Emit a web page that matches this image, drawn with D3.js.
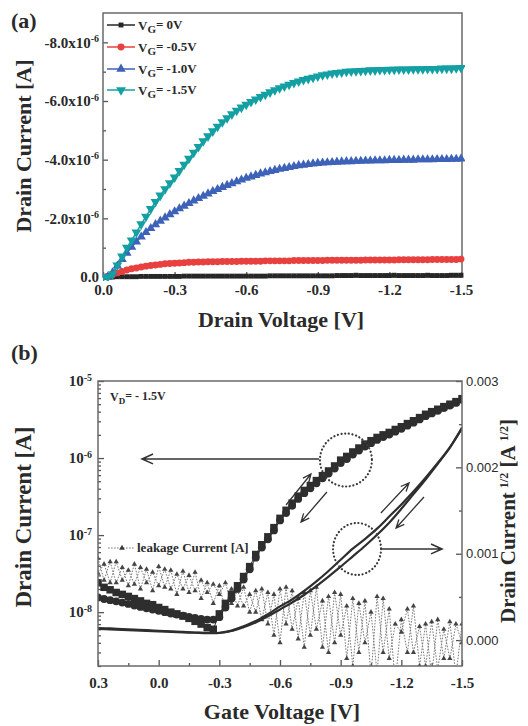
<!DOCTYPE html>
<html><head><meta charset="utf-8">
<script src="https://cdn.jsdelivr.net/npm/d3@7/dist/d3.min.js"></script>
<style>body{margin:0;background:#fff}svg{display:block}</style>
</head><body>
<svg id="c" width="528" height="726"></svg>
<script>
// ---------------- Panel (a): output characteristics ----------------
const vdSweep = [0,-0.02,-0.04,-0.06,-0.08,-0.1,-0.12,-0.14,-0.16,-0.18,-0.2,-0.22,-0.24,-0.26,-0.28,-0.3,-0.32,-0.34,-0.36,-0.38,-0.4,-0.42,-0.44,-0.46,-0.48,-0.5,-0.52,-0.54,-0.56,-0.58,-0.6,-0.62,-0.64,-0.66,-0.68,-0.7,-0.72,-0.74,-0.76,-0.78,-0.8,-0.82,-0.84,-0.86,-0.88,-0.9,-0.92,-0.94,-0.96,-0.98,-1,-1.02,-1.04,-1.06,-1.08,-1.1,-1.12,-1.14,-1.16,-1.18,-1.2,-1.22,-1.24,-1.26,-1.28,-1.3,-1.32,-1.34,-1.36,-1.38,-1.4,-1.42,-1.44,-1.46,-1.48,-1.5];
// drain current magnitudes in microamps (current is negative)
const idVg0 = [0.00,0.00,0.00,0.01,0.01,0.01,0.01,0.01,0.02,0.02,0.02,0.02,0.02,0.02,0.02,0.02,0.02,0.03,0.03,0.03,0.03,0.03,0.03,0.03,0.03,0.03,0.03,0.03,0.03,0.03,0.03,0.03,0.03,0.03,0.03,0.04,0.04,0.04,0.04,0.04,0.04,0.04,0.04,0.04,0.04,0.04,0.04,0.04,0.04,0.05,0.05,0.05,0.05,0.06,0.05,0.05,0.05,0.05,0.05,0.05,0.05,0.06,0.05,0.05,0.05,0.05,0.05,0.05,0.06,0.05,0.05,0.05,0.05,0.06,0.06,0.06];
const idVg05 = [0.00,0.03,0.08,0.14,0.19,0.24,0.28,0.31,0.34,0.37,0.39,0.41,0.43,0.45,0.46,0.47,0.48,0.49,0.50,0.50,0.51,0.51,0.52,0.52,0.52,0.53,0.53,0.53,0.53,0.54,0.54,0.54,0.54,0.54,0.55,0.55,0.55,0.55,0.55,0.55,0.56,0.56,0.56,0.56,0.56,0.56,0.56,0.57,0.57,0.57,0.57,0.57,0.57,0.57,0.57,0.58,0.58,0.58,0.58,0.58,0.58,0.58,0.59,0.59,0.59,0.59,0.59,0.59,0.59,0.60,0.60,0.60,0.60,0.60,0.60,0.61];
const idVg10 = [0.00,0.00,0.15,0.38,0.60,0.82,1.02,1.20,1.37,1.52,1.66,1.79,1.91,2.02,2.13,2.23,2.33,2.42,2.51,2.60,2.68,2.76,2.84,2.92,2.99,3.06,3.13,3.19,3.25,3.31,3.37,3.42,3.47,3.52,3.56,3.60,3.64,3.68,3.71,3.74,3.77,3.80,3.82,3.84,3.86,3.88,3.89,3.90,3.91,3.92,3.93,3.94,3.94,3.95,3.95,3.96,3.96,3.97,3.97,3.97,3.98,3.98,3.98,3.99,3.99,3.99,4.00,4.00,4.00,4.00,4.01,4.01,4.01,4.02,4.02,4.03];
const idVg15 = [0.00,0.00,0.10,0.40,0.70,1.00,1.25,1.52,1.80,2.06,2.32,2.56,2.78,3.00,3.20,3.40,3.62,3.83,4.04,4.24,4.44,4.63,4.80,4.97,5.13,5.28,5.42,5.55,5.67,5.78,5.88,5.97,6.06,6.14,6.22,6.30,6.37,6.44,6.50,6.56,6.62,6.67,6.72,6.76,6.80,6.84,6.88,6.91,6.94,6.96,6.98,7.00,7.01,7.02,7.03,7.04,7.05,7.05,7.06,7.06,7.07,7.07,7.08,7.08,7.08,7.09,7.09,7.09,7.10,7.10,7.10,7.11,7.11,7.11,7.12,7.13];
const seriesLabelsA = ["= 0V","= -0.5V","= -1.0V","= -1.5V"];
const yTicksA = [0,-2e-6,-4e-6,-6e-6,-8e-6];
const yMinorA = [-1e-6,-3e-6,-5e-6,-7e-6];
const xTicksA = [0,-0.3,-0.6,-0.9,-1.2,-1.5];
const xMinorA = [-0.15,-0.45,-0.75,-1.05,-1.35];

// ---------------- Panel (b): transfer characteristics ----------------
const vgSweep = [0.3,0.27,0.24,0.21,0.18,0.15,0.12,0.09,0.06,0.03,0,-0.03,-0.06,-0.09,-0.12,-0.15,-0.18,-0.21,-0.24,-0.27,-0.3,-0.33,-0.36,-0.39,-0.42,-0.45,-0.48,-0.51,-0.54,-0.57,-0.6,-0.63,-0.66,-0.69,-0.72,-0.75,-0.78,-0.81,-0.84,-0.87,-0.9,-0.93,-0.96,-0.99,-1.02,-1.05,-1.08,-1.11,-1.14,-1.17,-1.2,-1.23,-1.26,-1.29,-1.32,-1.35,-1.38,-1.41,-1.44,-1.47,-1.5];
const idFwd = [2.4e-8,2.1e-8,1.95e-8,1.8e-8,1.7e-8,1.6e-8,1.5e-8,1.4e-8,1.3e-8,1.25e-8,1.15e-8,1.08e-8,1.0e-8,9.5e-9,8.9e-9,8.3e-9,7.6e-9,7.0e-9,6.3e-9,6.0e-9,9.5e-9,1.3e-8,1.7e-8,2.2e-8,2.9e-8,3.9e-8,5.6e-8,7.5e-8,9.5e-8,1.25e-7,1.65e-7,2.1e-7,2.6e-7,3.2e-7,3.8e-7,4.4e-7,5.1e-7,5.9e-7,6.8e-7,7.9e-7,9.4e-7,1.05e-6,1.2e-6,1.35e-6,1.52e-6,1.68e-6,1.85e-6,2.0e-6,2.15e-6,2.35e-6,2.55e-6,2.8e-6,3.05e-6,3.35e-6,3.7e-6,4.0e-6,4.3e-6,4.65e-6,5.0e-6,5.4e-6,5.9e-6];
const idRev = [1.55e-8,1.48e-8,1.43e-8,1.38e-8,1.33e-8,1.28e-8,1.22e-8,1.17e-8,1.12e-8,1.08e-8,1.04e-8,1.0e-8,9.6e-9,9.3e-9,9.0e-9,8.7e-9,8.4e-9,8.2e-9,8.0e-9,8.0e-9,8.6e-9,1.15e-8,1.5e-8,2.0e-8,2.65e-8,3.6e-8,5.1e-8,6.9e-8,8.8e-8,1.15e-7,1.55e-7,1.93e-7,2.4e-7,2.95e-7,3.5e-7,4.05e-7,4.7e-7,5.45e-7,6.3e-7,7.3e-7,8.6e-7,9.7e-7,1.11e-6,1.25e-6,1.41e-6,1.56e-6,1.72e-6,1.87e-6,2.02e-6,2.2e-6,2.4e-6,2.63e-6,2.88e-6,3.17e-6,3.5e-6,3.8e-6,4.1e-6,4.45e-6,4.8e-6,5.2e-6,5.7e-6];
const leakA = [5.0e-8,2.6e-8,4.5e-8,2.4e-8,3.8e-8,2.2e-8,4.2e-8,2.0e-8,3.6e-8,1.9e-8,3.9e-8,2.1e-8,3.5e-8,1.7e-8,3.4e-8,1.8e-8,3.3e-8,1.5e-8,2.4e-8,1.3e-8,2.2e-8,1.1e-8,2.0e-8,1.2e-8,2.1e-8,1.0e-8,1.9e-8,8.0e-9,1.8e-8,5.0e-9,2.0e-8,7.0e-9,1.9e-8,4.5e-9,1.8e-8,5.0e-9,2.1e-8,3.5e-9,1.6e-8,4.0e-9,1.7e-8,2.5e-9,1.5e-8,3.0e-9,1.4e-8,1.5e-9,1.6e-8,3.0e-9,1.1e-8,1.2e-9,8.0e-9,3.0e-9,1.2e-8,2.0e-9,7.0e-9,1.5e-9,8.0e-9,2.5e-9,7.5e-9,1.5e-9,7.0e-9];
const leakB = [3.2e-8,4.2e-8,2.4e-8,4.5e-8,2.6e-8,3.5e-8,2.3e-8,3.8e-8,2.4e-8,3.3e-8,2.2e-8,3.6e-8,2.0e-8,3.1e-8,2.0e-8,3.0e-8,1.9e-8,2.6e-8,1.8e-8,2.3e-8,1.7e-8,2.4e-8,1.3e-8,1.9e-8,1.2e-8,1.7e-8,1.0e-8,2.0e-8,7.0e-9,1.7e-8,4.0e-9,2.1e-8,6.0e-9,1.5e-8,3.5e-9,1.9e-8,6.0e-9,1.4e-8,3.0e-9,1.8e-8,5.0e-9,1.2e-8,2.0e-9,1.3e-8,4.0e-9,1.0e-8,1.6e-9,1.5e-8,2.5e-9,7.0e-9,5.5e-9,1.1e-8,3.0e-9,6.5e-9,2.0e-9,7.5e-9,1.8e-9,6.0e-9,2.5e-9,7.0e-9,4.0e-9];
const vgLine = [0.3,0.24,0.18,0.12,0.06,0,-0.06,-0.12,-0.18,-0.24,-0.3,-0.36,-0.42,-0.48,-0.54,-0.6,-0.66,-0.72,-0.78,-0.84,-0.9,-0.96,-1.02,-1.08,-1.14,-1.2,-1.26,-1.32,-1.38,-1.44,-1.5];
const sqrtFwd = [1.40e-4,1.35e-4,1.28e-4,1.22e-4,1.15e-4,1.08e-4,1.00e-4,9.4e-5,8.8e-5,8.3e-5,8.5e-5,1.1e-4,1.6e-4,2.2e-4,3.0e-4,3.9e-4,4.7e-4,5.7e-4,6.8e-4,8.0e-4,9.3e-4,1.06e-3,1.17e-3,1.29e-3,1.43e-3,1.57e-3,1.72e-3,1.88e-3,2.05e-3,2.23e-3,2.46e-3];
const sqrtRev = [1.30e-4,1.25e-4,1.19e-4,1.13e-4,1.07e-4,1.01e-4,9.5e-5,9.0e-5,8.5e-5,8.0e-5,8.2e-5,1.05e-4,1.5e-4,2.05e-4,2.75e-4,3.55e-4,4.35e-4,5.25e-4,6.25e-4,7.35e-4,8.5e-4,9.7e-4,1.09e-3,1.22e-3,1.36e-3,1.52e-3,1.69e-3,1.86e-3,2.04e-3,2.23e-3,2.45e-3];
const xTicksB = [0.3,0,-0.3,-0.6,-0.9,-1.2,-1.5];
const xMinorB = [0.15,-0.15,-0.45,-0.75,-1.05,-1.35];
const yTicksB = [1e-8,1e-7,1e-6,1e-5];
const yTicksR = [0,0.001,0.002,0.003];
const yMinorR = [0.0005,0.0015,0.0025];

// ---------------- drawing ----------------
const svg = d3.select("#c");
const serif = "'Liberation Serif','Times New Roman',serif";
const sans = "'Liberation Sans',Arial,sans-serif";
const ink = "#2a2a2a";
const frameCol = "#6a6a6a";

function styleAxis(g, font, size, weight){
  g.select(".domain").remove();
  g.selectAll(".tick line").attr("stroke", "#555").attr("stroke-width", 1.3);
  g.selectAll("text").attr("font-family", font).attr("font-size", size)
   .attr("font-weight", weight).attr("fill", ink);
}

// ===== Panel (a)
const xA = d3.scaleLinear().domain([0,-1.5]).range([103,461]);
const yA = d3.scaleLinear().domain([0,-9e-6]).range([277,13]);

svg.append("text").attr("x",11).attr("y",28).attr("font-family",serif).attr("font-weight","bold")
  .attr("font-size",22).attr("fill",ink).text("(a)");

const axA = svg.append("g");
axA.append("g").attr("transform","translate(0,277)")
  .call(d3.axisBottom(xA).tickValues(xTicksA).tickSizeInner(-5).tickSizeOuter(0).tickPadding(7).tickFormat(d=>d.toFixed(1)))
  .call(g=>styleAxis(g,serif,15,"bold"));
axA.append("g").attr("transform","translate(0,277)")
  .call(d3.axisBottom(xA).tickValues(xMinorA).tickSizeInner(-3).tickSizeOuter(0).tickFormat(""))
  .call(g=>styleAxis(g,serif,15,"bold"));
axA.append("g").attr("transform","translate(103,0)")
  .call(d3.axisLeft(yA).tickValues(yTicksA).tickSizeInner(-5).tickSizeOuter(0).tickPadding(4))
  .call(g=>styleAxis(g,serif,15,"bold"))
  .call(g=>g.selectAll(".tick text").each(function(d){
    const t=d3.select(this); t.text(null);
    if(d===0){ t.text("0.0"); return; }
    t.append("tspan").text((d*1e6).toFixed(1)+"x10");
    t.append("tspan").attr("dy","-0.55em").attr("font-size",10).text("-6");
  }));
axA.append("g").attr("transform","translate(103,0)")
  .call(d3.axisLeft(yA).tickValues(yMinorA).tickSizeInner(-3).tickSizeOuter(0).tickFormat(""))
  .call(g=>styleAxis(g,serif,15,"bold"));

svg.append("rect").attr("x",xA(0)).attr("y",yA(-9e-6)).attr("width",xA(-1.5)-xA(0)+1).attr("height",yA(0)-yA(-9e-6))
  .attr("fill","none").attr("stroke",frameCol).attr("stroke-width",1.5);

const seriesA = [
  {vals:idVg0,  color:"#262626", sym:d3.symbolSquare,   size:24, rot:0},
  {vals:idVg05, color:"#e8403f", sym:d3.symbolCircle,   size:38, rot:0},
  {vals:idVg10, color:"#3d62b8", sym:d3.symbolTriangle, size:38, rot:0},
  {vals:idVg15, color:"#14a0a3", sym:d3.symbolTriangle, size:42, rot:180}
];
svg.append("clipPath").attr("id","clipA").append("rect")
  .attr("x",xA(0)).attr("y",yA(-9e-6)).attr("width",xA(-1.5)-xA(0)+4).attr("height",yA(0)-yA(-9e-6)+4);
const plotA = svg.append("g").attr("clip-path","url(#clipA)");
seriesA.forEach(s=>{
  const pts = vdSweep.map((v,i)=>[v, -s.vals[i]*1e-6]);
  plotA.append("path").datum(pts).attr("fill","none").attr("stroke",s.color).attr("stroke-width",1.5)
    .attr("d", d3.line().x(d=>xA(d[0])).y(d=>yA(d[1])));
  plotA.selectAll(null).data(pts).join("path")
    .attr("transform",d=>`translate(${xA(d[0])},${yA(d[1])}) rotate(${s.rot})`)
    .attr("d", d3.symbol(s.sym, s.size)).attr("fill", s.color);
});

// legend (a)
const legA = svg.append("g");
seriesA.forEach((s,i)=>{
  const yy = [25,47,69,90][i];
  legA.append("line").attr("x1",107).attr("x2",135).attr("y1",yy).attr("y2",yy).attr("stroke",s.color).attr("stroke-width",1.5);
  legA.append("path").attr("transform",`translate(121,${yy}) rotate(${s.rot})`).attr("d",d3.symbol(s.sym, s.size)).attr("fill",s.color);
  const t = legA.append("text").attr("x",138).attr("y",yy+5).attr("font-family",serif).attr("font-weight","bold").attr("font-size",13).attr("fill",ink);
  t.append("tspan").text("V");
  t.append("tspan").attr("dy","0.3em").attr("font-size",11).text("G");
  t.append("tspan").attr("dy","-0.3em").text(seriesLabelsA[i]);
});

svg.append("text").attr("transform","translate(31,146) rotate(-90)").attr("text-anchor","middle")
  .attr("font-family",serif).attr("font-weight","bold").attr("font-size",22).attr("fill",ink).text("Drain Current [A]");
svg.append("text").attr("x",281).attr("y",327).attr("text-anchor","middle")
  .attr("font-family",serif).attr("font-weight","bold").attr("font-size",22).attr("fill",ink).text("Drain Voltage [V]");

// ===== Panel (b)
const xB = d3.scaleLinear().domain([0.3,-1.5]).range([98,462]);
const yB = d3.scaleLog().domain([2e-9,1e-5]).range([666,381]);
const yR = d3.scaleLinear().domain([-0.0003,0.003]).range([666,381]);

svg.append("text").attr("x",11).attr("y",360).attr("font-family",serif).attr("font-weight","bold")
  .attr("font-size",22).attr("fill",ink).text("(b)");

const axB = svg.append("g");
axB.append("g").attr("transform","translate(0,666)")
  .call(d3.axisBottom(xB).tickValues(xTicksB).tickSizeInner(-6).tickSizeOuter(0).tickPadding(11).tickFormat(d=>d.toFixed(1)))
  .call(g=>styleAxis(g,serif,15,"bold"));
axB.append("g").attr("transform","translate(0,666)")
  .call(d3.axisBottom(xB).tickValues(xMinorB).tickSizeInner(-3).tickSizeOuter(0).tickFormat(""))
  .call(g=>styleAxis(g,serif,15,"bold"));
axB.append("g").attr("transform","translate(98,0)")
  .call(d3.axisLeft(yB).tickValues(yTicksB).tickSizeInner(-6).tickSizeOuter(0).tickPadding(6))
  .call(g=>styleAxis(g,serif,15,"bold"))
  .call(g=>g.selectAll(".tick text").each(function(d){
    const t=d3.select(this); t.text(null);
    t.append("tspan").text("10");
    t.append("tspan").attr("dy","-0.55em").attr("font-size",10).text(String(Math.round(Math.log10(d))));
  }));
const minorLog = [];
[1e-9,1e-8,1e-7,1e-6].forEach(dec=>{ for(let k=2;k<=9;k++){ const v=k*dec; if(v>=2e-9 && v<1e-5) minorLog.push(v);} });
axB.append("g").attr("transform","translate(98,0)")
  .call(d3.axisLeft(yB).tickValues(minorLog).tickSizeInner(-3).tickSizeOuter(0).tickFormat(""))
  .call(g=>styleAxis(g,serif,15,"bold"));
axB.append("g").attr("transform","translate(462,0)")
  .call(d3.axisRight(yR).tickValues(yTicksR).tickSizeInner(-6).tickSizeOuter(0).tickPadding(4).tickFormat(d=>d.toFixed(3)))
  .call(g=>styleAxis(g,sans,13,"normal"));
axB.append("g").attr("transform","translate(462,0)")
  .call(d3.axisRight(yR).tickValues(yMinorR).tickSizeInner(-3).tickSizeOuter(0).tickFormat(""))
  .call(g=>styleAxis(g,sans,13,"normal"));

svg.append("clipPath").attr("id","clipB").append("rect").attr("x",98).attr("y",381).attr("width",364).attr("height",285);
const plotB = svg.append("g").attr("clip-path","url(#clipB)");

// leakage current (log axis)
[leakA, leakB].forEach(arr=>{
  const pts = vgSweep.map((v,i)=>[v, arr[i]]);
  plotB.append("path").datum(pts).attr("fill","none").attr("stroke","#7a7a7a").attr("stroke-width",1)
    .attr("stroke-dasharray","1.6,1.4")
    .attr("d", d3.line().x(d=>xB(d[0])).y(d=>yB(d[1])));
  plotB.selectAll(null).data(pts).join("path")
    .attr("transform",d=>`translate(${xB(d[0])},${yB(d[1])})`)
    .attr("d", d3.symbol(d3.symbolTriangle, 12)).attr("fill","#444");
});

// sqrt(Id) lines (right axis)
[sqrtFwd, sqrtRev].forEach(arr=>{
  const pts = vgLine.map((v,i)=>[v, arr[i]]);
  plotB.append("path").datum(pts).attr("fill","none").attr("stroke","#2e2e2e").attr("stroke-width",2.2)
    .attr("d", d3.line().curve(d3.curveCatmullRom).x(d=>xB(d[0])).y(d=>yR(d[1])));
});

// Id markers (log axis)
[[idFwd, d3.symbolSquare, 56],[idRev, d3.symbolCircle, 48]].forEach(([arr,sym,size])=>{
  const pts = vgSweep.map((v,i)=>[v, arr[i]]);
  plotB.append("path").datum(pts).attr("fill","none").attr("stroke","#2e2e2e").attr("stroke-width",1)
    .attr("d", d3.line().x(d=>xB(d[0])).y(d=>yB(d[1])));
  plotB.selectAll(null).data(pts).join("path")
    .attr("transform",d=>`translate(${xB(d[0])},${yB(d[1])})`)
    .attr("d", d3.symbol(sym, size)).attr("fill","#2e2e2e");
});

svg.append("rect").attr("x",98).attr("y",381).attr("width",364).attr("height",285)
  .attr("fill","none").attr("stroke",frameCol).attr("stroke-width",1.5);

// annotations (positions in data units: gate voltage, sqrt current)
const annCol = "#333";
function arrow(v0,r0,v1,r1,w,head){
  const x0=xB(v0), y0=yR(r0), x1=xB(v1), y1=yR(r1);
  const a=Math.atan2(y1-y0,x1-x0), sp=0.42;
  svg.append("path").attr("fill","none").attr("stroke",annCol).attr("stroke-width",w).attr("stroke-linejoin","miter")
    .attr("d",`M${x0},${y0}L${x1},${y1}M${x1-head*Math.cos(a-sp)},${y1-head*Math.sin(a-sp)}L${x1},${y1}L${x1-head*Math.cos(a+sp)},${y1-head*Math.sin(a+sp)}`);
}
const circles = [{v:-0.926, r:0.002085, rx:26, ry:26.5},{v:-0.981, r:0.001055, rx:24, ry:26}];
circles.forEach(c=>{
  svg.append("ellipse").attr("cx",xB(c.v)).attr("cy",yR(c.r)).attr("rx",c.rx).attr("ry",c.ry)
    .attr("fill","none").attr("stroke","#3a3a3a").attr("stroke-width",2.2)
    .attr("stroke-dasharray","0.1,3.6").attr("stroke-linecap","round");
});
arrow(-0.793,0.002097, 0.082,0.002097, 1.6, 12);
arrow(-1.099,0.001055, -1.401,0.001055, 1.6, 12);
arrow(-0.630,0.001564, -0.753,0.001923, 1.3, 9);
arrow(-0.832,0.001715, -0.704,0.001367, 1.3, 9);
arrow(-1.099,0.001472, -1.238,0.001819, 1.3, 9);
arrow(-1.312,0.001657, -1.174,0.001298, 1.3, 9);

// text annotations
const vd = svg.append("text").attr("x",110).attr("y",401).attr("font-family",serif).attr("font-weight","bold").attr("font-size",12).attr("fill",ink);
vd.append("tspan").text("V");
vd.append("tspan").attr("dy","0.3em").attr("font-size",9).text("D");
vd.append("tspan").attr("dy","-0.3em").text("= - 1.5V");

svg.append("line").attr("x1",108).attr("x2",135).attr("y1",548).attr("y2",548).attr("stroke","#7a7a7a").attr("stroke-width",1).attr("stroke-dasharray","1.6,1.4");
svg.append("path").attr("transform","translate(122,548)").attr("d",d3.symbol(d3.symbolTriangle,14)).attr("fill","#3a3a3a");
svg.append("text").attr("x",137).attr("y",552).attr("font-family",serif).attr("font-weight","bold").attr("font-size",13).attr("fill",ink).text("leakage Current [A]");

svg.append("text").attr("transform","translate(31,517) rotate(-90)").attr("text-anchor","middle")
  .attr("font-family",serif).attr("font-weight","bold").attr("font-size",23).attr("fill",ink).text("Drain Current [A]");
svg.append("text").attr("x",282).attr("y",719).attr("text-anchor","middle")
  .attr("font-family",serif).attr("font-weight","bold").attr("font-size",22).attr("fill",ink).text("Gate Voltage [V]");
const rt = svg.append("text").attr("transform","translate(515,521) rotate(-90)").attr("text-anchor","middle")
  .attr("font-family",serif).attr("font-weight","bold").attr("font-size",21).attr("fill",ink);
rt.append("tspan").text("Drain Current");
rt.append("tspan").attr("baseline-shift","super").attr("font-size",12).attr("dx",4).text("1/2");
rt.append("tspan").text(" [A");
rt.append("tspan").attr("baseline-shift","super").attr("font-size",12).attr("dx",4).text("1/2");
rt.append("tspan").text("]");
</script>
</body></html>
